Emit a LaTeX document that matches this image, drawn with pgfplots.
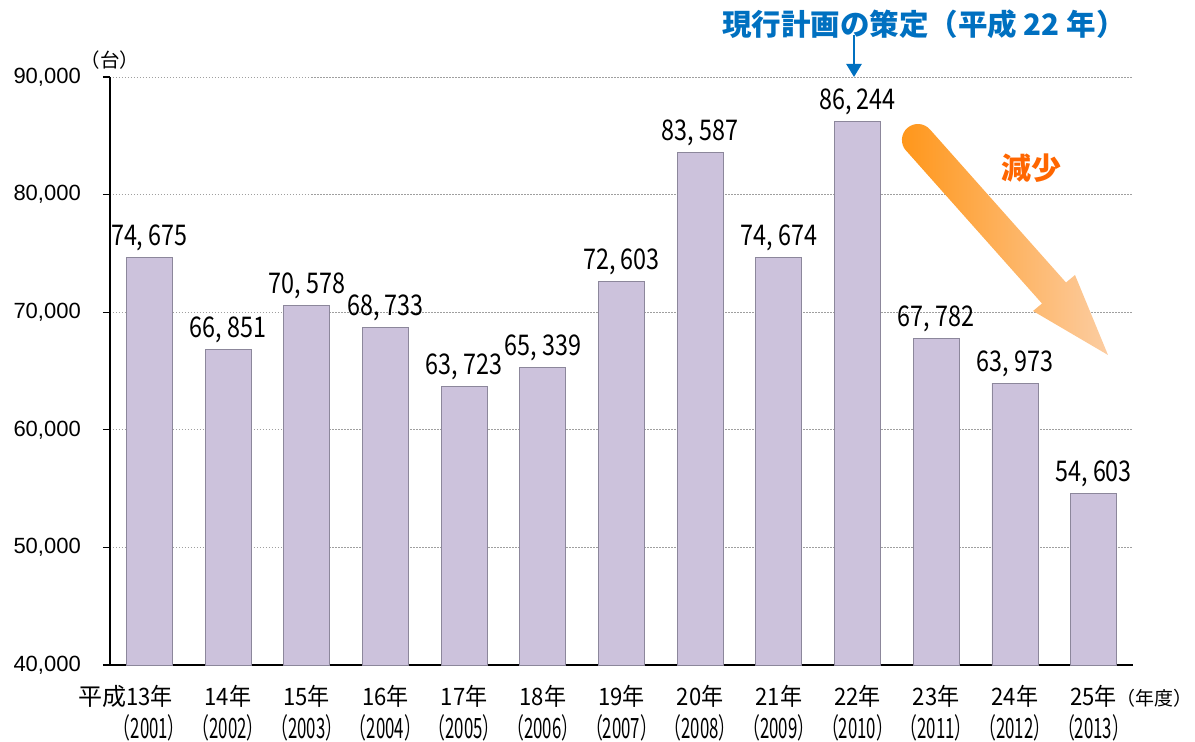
\documentclass[border=0pt]{standalone}
\usepackage{fontspec}
\usepackage{pgfplots}
\usepackage{pgfplotstable}
\pgfplotsset{compat=1.18}
\usetikzlibrary{arrows.meta}
\setmainfont{Noto Sans CJK JP}
\newfontfamily\cjk{Noto Sans CJK JP}
\newfontfamily\condfont[FakeStretch=0.6]{Noto Sans CJK JP}
\newfontfamily\labfont[FakeStretch=0.82]{Noto Sans CJK JP}
\newfontfamily\xfont[FakeStretch=0.92]{Noto Sans CJK JP}
\newfontfamily\arial{Liberation Sans}
\definecolor{barfill}{RGB}{204,194,220}
\definecolor{baredge}{RGB}{140,135,155}
\definecolor{titleblue}{RGB}{0,112,192}
\definecolor{arrowA}{RGB}{255,150,25}
\definecolor{arrowB}{RGB}{252,205,162}
\definecolor{genred}{RGB}{255,102,0}
\pgfplotstableread{
x y
0 74675
1 66851
2 70578
3 68733
4 63723
5 65339
6 72603
7 83587
8 74674
9 86244
10 67782
11 63973
12 54603
}\datatable
\newcommand\xl[2]{#1\\{\condfont\fontsize{28}{33}\selectfont （#2）}}
\begin{document}
\begin{tikzpicture}
\useasboundingbox (-110pt,-77pt) rectangle (1085pt,665pt);
\begin{axis}[
  at={(0pt,0pt)}, anchor=south west,
  scale only axis, width=1023pt, height=588pt,
  xmin=-0.5, xmax=12.5, ymin=40000, ymax=90000,
  axis x line*=bottom, axis y line*=left,
  axis line style={black, line width=1.3pt},
  xtick={0,...,12},
  xticklabels={\xl{\llap{{\cjk 平成}}13年}{2001},\xl{14年}{2002},\xl{15年}{2003},\xl{16年}{2004},\xl{17年}{2005},\xl{18年}{2006},\xl{19年}{2007},\xl{20年}{2008},\xl{21年}{2009},\xl{22年}{2010},\xl{23年}{2011},\xl{24年}{2012},\xl{25年\rlap{\cjk\fontsize{19}{20}\selectfont （年度）}}{2013}},
  x tick style={draw=none},
  xticklabel style={align=center, font=\xfont\fontsize{24}{33}\selectfont, anchor=north, inner sep=0pt, yshift=-13pt},
  ytick={40000,50000,60000,70000,80000,90000},
  scaled y ticks=false,
  yticklabel style={font=\arial\fontsize{22}{24}\selectfont, /pgf/number format/fixed, /pgf/number format/1000 sep={,}, /pgf/number format/assume math mode=true, inner sep=0pt, xshift=-22pt},
  tick align=outside, major tick length=7pt,
  y tick style={black, line width=1.2pt},
  ymajorgrids,
  grid style={gray!75, line width=0.8pt, dash pattern=on 1.5pt off 1.5pt},
  nodes near coords={\pgfmathprintnumber[fixed,precision=0,1000 sep={,\ },assume math mode=true]{\pgfplotspointmeta}},
  every node near coord/.append style={font=\labfont\fontsize{28.5}{30}\selectfont, anchor=base, inner sep=0pt, yshift=12pt, text=black},
]
\addplot[ybar, bar width=46pt, fill=barfill, draw=baredge, line width=0.8pt] table[x=x,y=y] {\datatable};
\end{axis}
% annotations
\node[anchor=west, text=titleblue, font=\cjk\bfseries\fontsize{29.5}{30}\selectfont, inner sep=0pt] at (612pt,641pt) {現行計画の策定（平成 22 年）};
\draw[titleblue, line width=2.5pt, -{Triangle[width=15pt,length=13pt]}] (744pt,630pt) -- (744pt,588pt);
\shade[left color=arrowA, right color=arrowB]
  (796pt,514.5pt) -- (932pt,361.5pt) -- (923pt,354pt) -- (998pt,310pt) -- (965pt,390pt) -- (956pt,382.5pt) -- (820pt,535.5pt)
  arc[start angle=41, end angle=221, radius=16pt] -- cycle;
\node[text=genred, font=\cjk\bfseries\fontsize{30}{31}\selectfont, inner sep=0pt] at (921pt,497pt) {減少};
\node[font=\cjk\fontsize{19.5}{20}\selectfont, inner sep=0pt] at (0pt,605pt) {（台）};
\end{tikzpicture}
\end{document}
